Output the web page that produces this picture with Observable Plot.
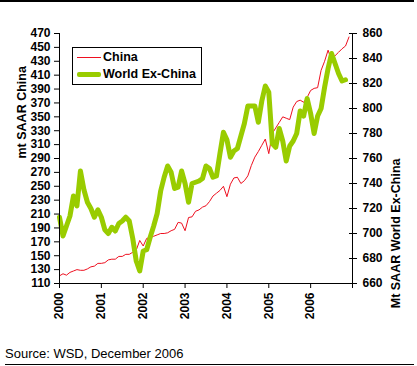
<!DOCTYPE html>
<html><head><meta charset="utf-8">
<script src="https://cdn.jsdelivr.net/npm/d3@7"></script>
<script src="https://cdn.jsdelivr.net/npm/@observablehq/plot@0.6"></script>
<style>
body{margin:0;background:#fff;font-family:Arial,"Liberation Sans",sans-serif;}
#wrap{position:relative;width:417px;height:366px;overflow:hidden;}
#topline{position:absolute;left:0;top:0;width:414px;height:2px;background:#000;}
#chart{position:absolute;left:0;top:3px;}
#legend{position:absolute;left:72px;top:47px;width:128px;height:36px;border:1px solid #000;background:#fff;font-size:12.5px;font-weight:bold;color:#000;}
.row{position:absolute;left:0;height:15px;line-height:15px;}
.sw{position:absolute;left:4px;width:24px;}
.lab{position:absolute;left:30px;white-space:nowrap;}
#source{position:absolute;left:5px;top:346px;font-size:13px;line-height:15px;color:#000;}
#botline{position:absolute;left:5px;top:364px;width:409px;height:1px;background:#000;}
</style>
</head><body>
<div id="wrap">
  <div id="topline"></div>
  <div id="chart"></div>
  <div id="legend">
    <div class="row" style="top:2px;width:128px"><div class="sw" style="top:7px;height:1px;background:#ee1020"></div><div class="lab">China</div></div>
    <div class="row" style="top:19px;width:128px"><div class="sw" style="top:5px;height:5px;background:#99cc00;border-radius:2px"></div><div class="lab">World Ex-China</div></div>
  </div>
  <div id="source">Source: WSD, December 2006</div>
  <div id="botline"></div>
</div>
<script>
// Monthly values Jan 2000 .. Dec 2006
const china = [121,124,122,126,128,130,129,129,131,134,135,139,
  139,140,144,145,145,149,149,152,152,155,158,172,
  164,175,176,178,180,182,182,183,186,188,198,197,
  186,205,206,214,216,220,222,228,236,240,244,250,
  235,253,262,263,254,258,265,280,292,300,309,318,
  297,326,334,342,350,348,346,364,372,374,371,378,
  388,391,392,417,430,446,431,438,443,448,452,465];
const world = [713,698,706,714,730,722,750,735,725,720,713,719,
  713,703,700,705,702,708,710,713,710,696,678,670,
  686,687,697,706,716,734,745,754,749,736,737,750,
  740,725,740,741,742,744,754,752,745,746,764,781,
  775,761,766,768,778,788,802,802,802,789,806,818,
  813,772,769,784,774,758,770,774,780,798,794,808,
  796,780,794,800,817,832,844,836,828,822,823];
const startYear = 2000;
const yearTicks = [2000,2001,2002,2003,2004,2005,2006,2007];
const chinaTicks = d3.range(110, 471, 20);
const worldTicks = d3.range(660, 861, 20);
const chinaDomain = [110, 470];
const worldDomain = [660, 860];

const toChina = w => chinaDomain[0] + (w - worldDomain[0]) * (chinaDomain[1]-chinaDomain[0]) / (worldDomain[1]-worldDomain[0]);
const fromChina = c => Math.round(worldDomain[0] + (c - chinaDomain[0]) * (worldDomain[1]-worldDomain[0]) / (chinaDomain[1]-chinaDomain[0]));

const chinaData = china.map((v,i) => ({x: startYear + i/12, y: v}));
const worldData = world.map((v,i) => ({x: startYear + i/12, y: toChina(v)}));

const chart = Plot.plot({
  width: 417, height: 332,
  marginTop: 30, marginBottom: 52, marginLeft: 59, marginRight: 65,
  style: {fontFamily: 'Arial, "Liberation Sans", sans-serif', fontSize: "12px", fontWeight: "bold", color: "#000", background: "#fff"},
  x: {domain: [2000, 2007]},
  y: {domain: chinaDomain},
  marks: [
    Plot.line(chinaData, {x: "x", y: "y", stroke: "#ee1020", strokeWidth: 1}),
    Plot.line(worldData, {x: "x", y: "y", stroke: "#99cc00", strokeWidth: 5, strokeLinejoin: "round", strokeLinecap: "round"}),
    Plot.ruleX([2000], {stroke: "#000"}),
    Plot.ruleX([2007], {stroke: "#000"}),
    Plot.ruleY([110], {stroke: "#000"}),
    Plot.axisX(yearTicks, {anchor: "bottom", tickSize: 5, tickPadding: 4, tickRotate: -90, tickFormat: d => d === 2007 ? "" : String(d), label: null, fontSize: 12, fontWeight: "bold"}),
    Plot.axisY(chinaTicks, {anchor: "left", tickSize: 5, tickPadding: 4, label: null, fontSize: 12, fontWeight: "bold"}),
    Plot.axisY(worldTicks.map(toChina), {anchor: "right", tickSize: 8, dx: -4, tickPadding: 6, tickFormat: c => String(fromChina(c)), label: null, fontSize: 12, fontWeight: "bold"}),
    Plot.text(["mt SAAR China"], {frameAnchor: "left", dx: -38, rotate: -90, fontSize: 12.5, fontWeight: "bold", fill: "#000"}),
    Plot.text(["Mt SAAR World Ex-China"], {frameAnchor: "right", dx: 43, rotate: -90, fontSize: 12.5, fontWeight: "bold", fill: "#000"})
  ]
});
document.getElementById("chart").appendChild(chart);
</script>
</body></html>
